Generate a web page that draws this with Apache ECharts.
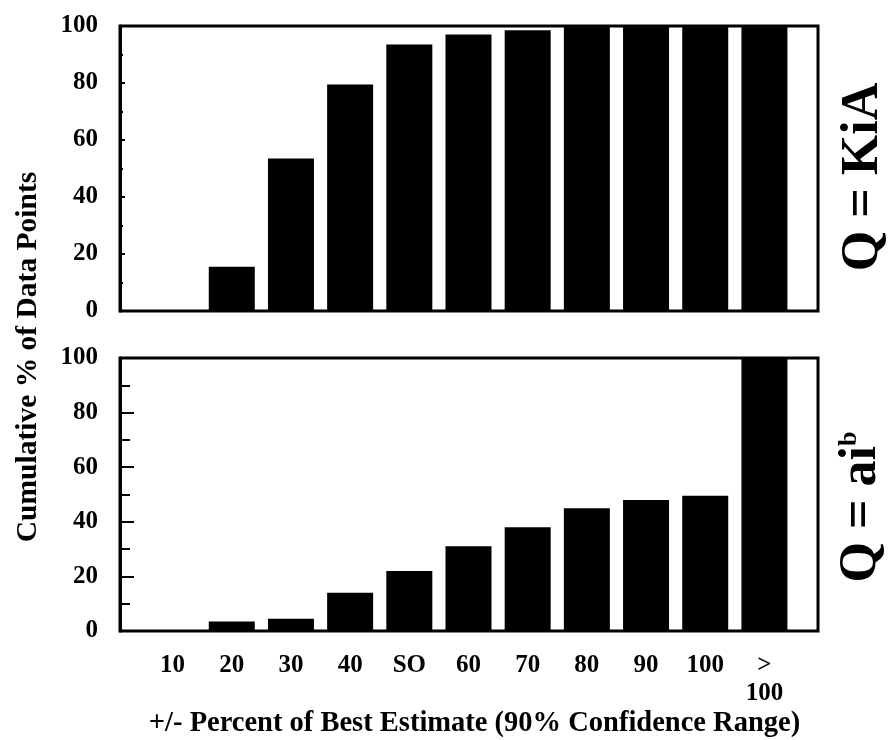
<!DOCTYPE html>
<html><head><meta charset="utf-8">
<script src="https://cdn.jsdelivr.net/npm/echarts@6/dist/echarts.min.js"></script>
<style>html,body{margin:0;padding:0;background:#fff}#c{width:892px;height:740px}</style>
</head><body><div id="c"></div>
<script>
const categories = ['10', '20', '30', '40', 'SO', '60', '70', '80', '90', '100', '>\n100'];
const kiaValues = [0, 15.5, 53.5, 79.5, 93.5, 97, 98.5, 100, 100, 100, 100];
const powerValues = [0, 3.5, 4.5, 14, 22, 31, 38, 45, 48, 49.5, 100];
const yLabelStep = 20;
const yMinorSplit = 2;
const xTitle = '+/- Percent of Best Estimate (90% Confidence Range)';
const yTitle = 'Cumulative % of Data Points';
const topPanelLabel = 'Q = KiA';

const FONT = '"Liberation Serif", "Times New Roman", serif';
const chart = echarts.init(document.getElementById('c'), null, {renderer: 'canvas'});

function frameY(tickLen, minorLen) {
  return {
    type: 'value', min: 0, max: 100, interval: yLabelStep,
    axisLine: {show: true, lineStyle: {color: '#000', width: 3}},
    axisTick: {show: true, inside: true, length: tickLen, lineStyle: {color: '#000', width: 2}},
    minorTick: {show: true, splitNumber: yMinorSplit, length: minorLen, lineStyle: {color: '#000', width: 2}},
    splitLine: {show: false},
    axisLabel: {color: '#000', fontFamily: FONT, fontWeight: 'bold', fontSize: 25, margin: 22}
  };
}
function hiddenY() { return {type: 'value', min: 0, max: 100, show: false}; }
function hiddenX() { return {type: 'value', min: 0, max: 1, show: false}; }

const option = {
  backgroundColor: '#fff',
  animation: false,
  grid: [
    {left: 120, top: 26, width: 698, height: 285, show: true, borderColor: '#000', borderWidth: 3},
    {left: 143, top: 26, width: 651, height: 285},
    {left: 120, top: 358, width: 698, height: 273, show: true, borderColor: '#000', borderWidth: 3},
    {left: 143, top: 358, width: 651, height: 273}
  ],
  xAxis: [
    Object.assign(hiddenX(), {gridIndex: 0}),
    {gridIndex: 1, type: 'category', data: categories, axisLine: {show: false}, axisTick: {show: false}, axisLabel: {show: false}},
    Object.assign(hiddenX(), {gridIndex: 2}),
    {gridIndex: 3, type: 'category', data: categories,
      axisLine: {show: false}, axisTick: {show: false},
      axisLabel: {color: '#000', fontFamily: FONT, fontWeight: 'bold', fontSize: 25, margin: 21, lineHeight: 28, interval: 0},
      name: xTitle, nameLocation: 'middle', nameGap: 77,
      nameTextStyle: {color: '#000', fontFamily: FONT, fontWeight: 'bold', fontSize: 28.5, padding: [0, 0, 0, 12]}
    }
  ],
  yAxis: [
    Object.assign(frameY(5, 3), {gridIndex: 0}),
    Object.assign(hiddenY(), {gridIndex: 1}),
    Object.assign(frameY(14, 10), {gridIndex: 2}),
    Object.assign(hiddenY(), {gridIndex: 3})
  ],
  series: [
    {type: 'bar', xAxisIndex: 1, yAxisIndex: 1, data: kiaValues, barWidth: 46, itemStyle: {color: '#000'}},
    {type: 'bar', xAxisIndex: 3, yAxisIndex: 3, data: powerValues, barWidth: 46, itemStyle: {color: '#000'}}
  ],
  graphic: [
    {type: 'text', x: 28, y: 357, rotation: Math.PI / 2,
      style: {text: yTitle, font: 'bold 29.5px ' + FONT, fill: '#000', align: 'center', verticalAlign: 'middle'}},
    {type: 'text', x: 864, y: 177, rotation: Math.PI / 2,
      style: {text: topPanelLabel, font: 'bold 52px ' + FONT, fill: '#000', align: 'center', verticalAlign: 'middle'}},
    {type: 'text', x: 862, y: 507, rotation: Math.PI / 2,
      style: {text: '{m|Q = ai}{s|b}', fill: '#000', align: 'center', verticalAlign: 'middle',
        rich: {
          m: {fontFamily: FONT, fontWeight: 'bold', fontSize: 52, fill: '#000'},
          s: {fontFamily: FONT, fontWeight: 'bold', fontSize: 26, fill: '#000', verticalAlign: 'top'}
        }}}
  ]
};
chart.setOption(option);
</script>
</body></html>
